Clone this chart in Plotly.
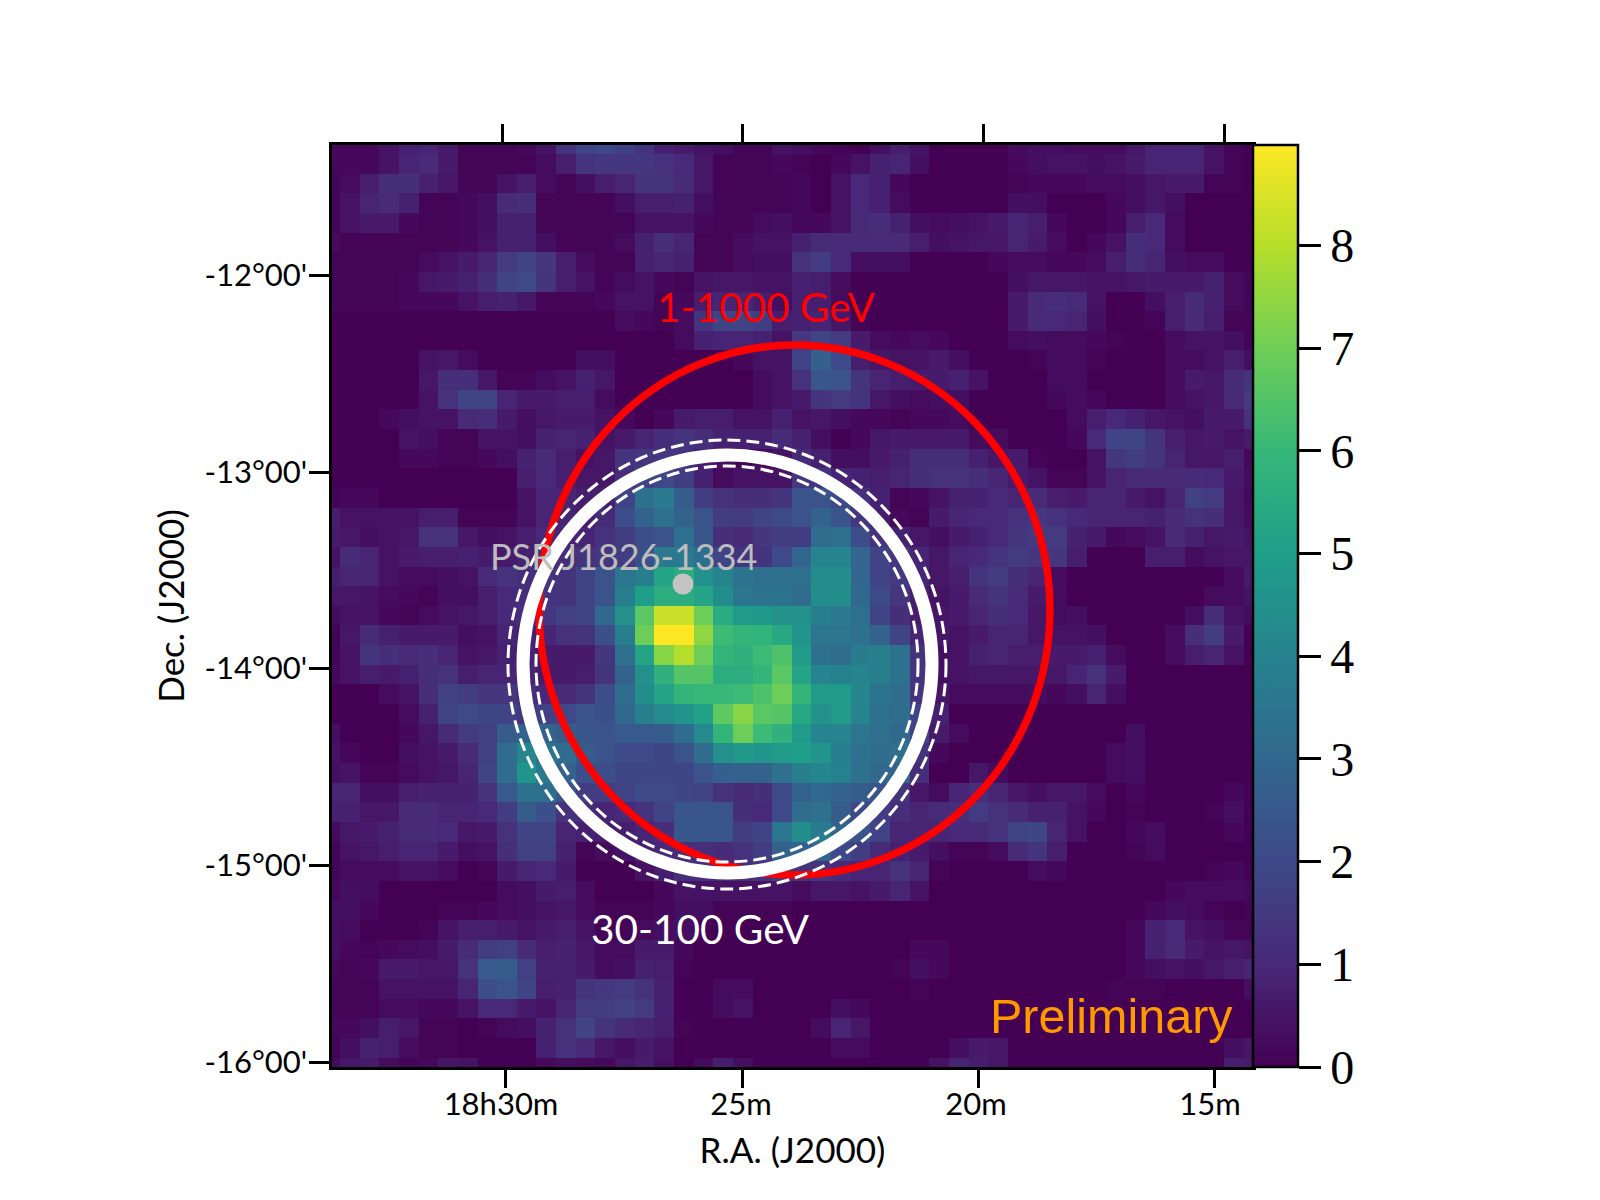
import numpy as np
import plotly.graph_objects as go

# significance map, in tenths of a sigma; columns 0-23 and 24-47 of each of the 48 rows
map_left = [
[2,2,2,5,9,10,7,1,1,1,2,5,15,20,22,19,15,9,7,5,4,1,1,5],
[2,2,2,5,10,12,7,1,1,1,1,3,8,15,16,16,16,14,11,6,1,1,1,2],
[1,3,8,13,13,9,6,1,1,5,8,3,1,4,8,10,15,15,12,6,1,1,1,1],
[1,5,10,12,9,1,1,2,4,12,13,1,1,1,1,4,8,8,9,4,1,1,1,1],
[1,5,7,7,2,1,1,2,4,9,9,1,1,1,1,1,5,5,5,2,1,1,3,4],
[3,1,1,1,1,1,1,2,5,9,9,4,1,1,1,3,9,13,10,1,1,3,5,5],
[1,1,1,1,1,3,5,7,10,17,20,16,8,3,1,1,9,10,9,1,1,3,4,4],
[1,1,1,1,2,6,7,9,13,20,22,15,8,5,1,3,5,2,1,5,6,6,5,5],
[1,1,1,1,2,2,2,5,8,9,6,1,1,1,2,5,5,1,2,8,10,10,8,4],
[0,0,0,0,0,0,0,0,0,0,0,0,0,0,0,3,2,1,3,15,20,20,18,8],
[0,0,0,0,0,0,0,0,0,0,0,0,0,0,0,0,0,0,3,9,10,10,9,5],
[0,0,0,0,0,5,6,3,0,0,0,0,0,4,4,0,0,0,0,0,0,2,5,5],
[0,0,0,0,0,6,13,13,6,1,1,3,5,9,6,0,0,0,0,0,0,0,3,5],
[0,0,0,0,0,5,14,20,20,10,7,7,8,8,3,0,0,0,0,0,0,0,3,5],
[0,0,0,2,4,5,5,12,13,7,4,6,7,7,5,2,0,2,7,8,8,5,5,9],
[0,0,0,0,5,4,1,1,5,5,4,9,10,9,5,7,10,13,15,13,9,9,9,12],
[0,0,0,0,2,2,1,1,2,4,9,12,8,5,6,15,16,16,15,8,5,1,3,5],
[0,0,0,0,0,0,0,0,0,0,8,11,8,6,6,13,20,22,18,9,3,5,5,5],
[1,2,2,0,0,0,0,0,0,0,5,10,10,8,8,20,35,38,28,18,14,13,13,15],
[8,5,5,5,5,8,8,1,1,1,5,10,10,8,12,23,30,35,30,25,18,17,20,22],
[7,6,4,5,6,14,14,6,4,5,8,11,10,10,14,18,23,25,34,26,13,12,16,18],
[5,12,10,5,7,8,8,9,7,7,9,12,13,15,16,18,24,38,38,34,20,15,15,22],
[8,10,10,5,3,3,4,5,12,15,13,15,15,20,25,37,40,53,57,46,42,36,34,34],
[6,6,5,3,2,1,4,4,8,11,13,15,15,20,25,40,51,57,57,53,45,37,36,36],
[3,5,5,2,1,3,5,6,8,11,13,16,19,20,32,46,67,83,83,70,56,50,49,47],
[1,6,12,9,7,7,7,4,5,10,9,10,14,15,24,40,70,90,90,75,62,60,59,55],
[1,5,15,13,12,13,10,5,6,9,10,7,7,7,16,35,53,74,80,70,60,58,62,65],
[2,5,8,7,9,13,14,8,10,10,10,7,7,8,15,30,46,58,66,66,57,57,60,67],
[0,0,0,3,5,13,19,18,16,16,13,11,12,15,23,33,45,53,60,61,61,62,65,70],
[0,0,0,0,3,9,20,22,21,20,16,19,22,25,24,32,40,44,48,52,68,74,67,66],
[4,0,0,0,2,6,12,17,19,28,30,30,28,26,25,27,27,28,33,44,60,70,62,58],
[5,2,0,0,4,5,7,12,19,33,43,36,33,28,25,22,22,21,25,33,46,49,48,50],
[4,5,1,1,3,5,6,10,20,33,48,38,30,24,23,21,21,21,21,25,29,30,30,35],
[10,10,4,4,8,9,9,9,14,27,35,34,25,18,18,20,22,22,21,20,14,12,13,22],
[9,9,6,6,12,12,10,10,11,18,28,24,14,13,10,12,15,20,26,26,25,13,11,22],
[3,6,7,9,12,12,11,6,7,14,20,20,10,9,8,8,10,13,26,26,26,18,20,37],
[1,5,6,8,10,10,7,4,5,13,19,19,9,1,3,5,9,11,13,13,12,14,18,30],
[1,3,3,3,5,5,3,0,1,7,10,11,7,0,0,0,5,8,13,13,13,13,15,17],
[2,4,3,0,0,0,0,0,0,3,4,7,8,3,0,0,0,2,5,5,5,5,5,5],
[4,4,2,0,0,0,1,1,2,3,4,5,6,3,1,1,1,2,4,4,1,1,1,1],
[4,3,0,0,0,1,5,8,8,7,5,7,8,5,1,1,3,4,4,1,0,0,0,0],
[4,2,1,2,3,4,7,12,18,19,12,8,9,6,3,3,7,7,2,0,0,0,0,0],
[2,1,2,7,7,6,6,14,27,28,19,9,9,7,3,4,9,8,1,0,0,0,0,0],
[1,1,1,5,5,5,5,10,23,25,20,8,9,15,16,17,14,9,0,0,3,3,0,0],
[1,1,1,3,3,2,2,5,11,11,7,5,10,17,18,19,17,9,0,0,3,5,0,0],
[2,2,4,8,6,1,1,0,1,3,4,9,14,20,15,12,10,8,1,0,0,0,0,0],
[1,4,9,8,3,1,1,0,0,0,0,9,14,12,6,4,7,5,0,0,0,0,0,0],
[3,6,7,3,1,2,6,5,0,0,0,2,4,3,2,6,8,4,0,3,8,4,0,0],
]
map_right = [
[4,2,1,0,4,8,5,0,0,0,0,3,4,4,3,3,3,6,10,10,10,5,1,0],
[1,0,2,5,9,10,4,0,0,0,0,2,4,5,5,4,5,7,10,10,10,5,1,0],
[2,0,5,11,9,2,0,0,0,0,0,1,2,2,2,3,3,4,6,7,7,1,1,0],
[2,0,5,11,9,3,0,0,0,0,0,4,4,0,0,0,2,4,6,4,0,0,0,0],
[2,2,5,12,13,9,4,3,4,5,7,10,8,2,0,0,2,8,11,3,0,0,0,0],
[9,12,12,12,12,12,8,4,5,6,6,10,7,3,0,2,5,13,11,3,0,0,0,0],
[14,18,11,4,4,4,0,0,0,0,2,3,3,2,2,3,8,13,10,4,3,3,0,0],
[9,8,3,0,0,0,0,0,0,0,0,4,6,6,6,5,5,6,7,7,7,9,3,1],
[9,8,3,0,0,0,0,0,0,0,0,7,12,13,12,5,0,0,4,8,12,9,3,1],
[9,10,6,1,0,0,0,0,0,0,0,7,12,11,10,4,0,0,1,8,12,8,1,1],
[16,20,17,7,3,2,3,2,0,0,0,3,4,3,3,2,1,0,0,3,5,5,4,1],
[20,29,22,8,6,5,5,7,4,0,0,0,1,3,3,1,0,0,0,3,3,5,8,4],
[14,26,25,15,10,8,7,7,9,5,0,0,0,3,3,0,0,0,0,3,7,6,12,15],
[7,15,17,15,6,4,3,4,4,0,0,0,0,2,3,2,0,0,0,3,5,6,12,17],
[5,6,4,2,2,1,2,2,3,0,0,0,0,0,3,8,11,9,6,5,4,7,7,14],
[9,4,0,2,6,7,7,7,7,3,3,0,0,0,2,11,20,21,15,8,6,7,5,7],
[12,9,4,4,7,9,13,13,13,9,6,7,1,0,0,5,16,18,15,10,6,6,8,2],
[16,15,10,9,8,10,13,14,14,13,10,7,5,1,1,5,10,12,12,12,12,11,7,3],
[25,25,22,14,9,1,2,5,9,9,11,10,12,8,7,10,10,7,5,10,19,17,6,2],
[25,30,25,16,8,2,1,7,10,11,11,14,16,14,11,10,10,10,9,12,14,13,6,3],
[18,33,34,23,14,9,6,4,7,9,11,16,17,17,9,7,2,3,5,12,9,6,7,5],
[31,42,42,31,20,16,10,6,10,11,15,17,16,16,8,0,0,0,8,8,3,5,6,6],
[35,45,45,31,20,17,10,6,8,15,17,13,10,3,0,0,0,0,0,0,0,0,3,7],
[33,45,45,32,22,16,8,5,7,12,15,12,7,3,0,0,0,0,0,0,0,3,3,5],
[47,40,38,34,20,13,7,6,7,10,13,11,6,3,4,0,0,0,0,0,4,13,5,3],
[48,37,37,35,30,20,10,6,5,7,10,10,6,5,5,4,0,0,0,3,13,18,7,0],
[50,35,33,39,40,35,15,4,5,9,10,8,8,7,7,9,3,0,0,3,8,10,5,0],
[53,42,41,42,40,35,15,4,5,6,6,6,6,6,10,14,7,0,0,0,0,0,0,0],
[60,50,50,43,36,33,15,6,3,3,3,3,4,2,4,10,4,0,0,0,0,0,0,0],
[55,47,50,42,35,33,20,9,0,0,0,0,0,0,0,0,0,0,0,0,0,0,0,0],
[50,42,42,37,34,32,20,7,3,0,0,0,0,0,0,0,0,4,0,0,0,0,0,0],
[51,48,40,35,33,34,15,2,0,0,0,0,0,0,0,0,3,4,0,0,0,0,0,0],
[40,43,41,35,32,30,13,0,0,6,3,0,0,0,0,0,3,4,0,0,0,0,0,0],
[30,32,30,28,25,15,6,3,10,13,10,6,4,6,6,3,0,2,0,0,0,0,2,0],
[33,35,28,22,18,13,10,12,13,17,14,12,9,9,5,2,0,1,0,0,0,1,4,0],
[45,39,30,25,20,10,10,10,11,12,14,20,21,10,5,0,0,2,3,0,0,0,2,0],
[30,31,22,18,12,9,7,4,1,1,3,12,15,8,0,0,0,1,3,0,0,0,0,0],
[15,15,12,10,10,14,10,1,0,0,0,0,3,2,0,0,0,0,0,0,0,1,2,0],
[3,6,6,5,7,10,5,0,0,0,0,0,0,0,0,0,0,0,0,2,3,3,3,2],
[0,0,0,0,0,0,0,0,0,0,0,0,0,0,0,0,0,0,2,4,3,1,0,1],
[0,0,0,0,0,0,0,0,0,0,0,0,0,0,0,0,0,2,9,11,5,4,1,1],
[0,0,0,0,0,0,2,2,0,0,0,0,0,0,0,0,0,2,9,12,7,5,6,5],
[0,0,0,0,0,1,4,2,0,0,0,0,0,0,0,0,0,2,4,5,4,6,8,10],
[0,0,0,0,0,0,1,0,0,0,0,0,0,0,0,0,1,1,1,0,0,0,0,4],
[0,0,4,2,0,0,0,0,0,0,0,0,0,0,0,0,0,0,0,0,0,0,0,0],
[0,3,10,6,0,0,0,0,0,0,0,0,0,0,0,0,0,0,0,0,0,0,0,0],
[0,0,3,3,0,0,0,0,4,7,6,0,0,0,0,0,0,0,0,0,0,0,4,6],
[0,0,0,0,0,0,0,5,10,8,6,0,0,0,0,0,0,0,0,0,0,0,8,7],
]

ra_labels = ["18h30m", "25m", "20m", "15m"]
dec_labels = ["-12°00'", "-13°00'", "-14°00'", "-15°00'", "-16°00'"]

z = np.hstack([np.array(map_left), np.array(map_right)]) / 10.0
# my eye read the faint cells slightly too bright: pull the low end of the estimates down
z = np.interp(z, [0, 2, 9], [0, 1.8, 9])
nrow, ncol = z.shape

# plot frame in page pixels; one map cell is 19.65 px; the page body adds an 8 px margin
L, R, T, B = 332, 1253, 145, 1067
CELL = 19.65
BODY = 8
PAGE_W, PAGE_H = 1600 - 2 * BODY, 1200 - 2 * BODY
def cx(px): return (px - 340) / CELL + 0.5
def cy(py): return (py - 154) / CELL + 0.5

ra_ticks_bottom = [cx(p) for p in (505.5, 742, 978, 1214)]
ra_label_pos = [cx(p) for p in (501, 741, 976, 1210)]
ra_ticks_top = [cx(p) for p in (502, 742, 983, 1224)]
dec_ticks = [cy(p) for p in (275, 472, 668, 865, 1062)]

SANS = "Lato"
TICKFONT = dict(family=SANS, size=31, color="black")
TICKS = dict(ticks="outside", ticklen=20, tickwidth=2.5, tickcolor="black")

fig = go.Figure()
fig.add_trace(go.Heatmap(
    z=z, x=np.arange(ncol), y=np.arange(nrow),
    colorscale="Viridis", zmin=0, zmax=8.98, hoverinfo="skip",
    colorbar=dict(
        x=1.0, xanchor="left", xpad=0, y=0.5, yanchor="middle", ypad=0, len=1,
        thickness=45, thicknessmode="pixels", outlinecolor="black", outlinewidth=2.5,
        tickmode="array", tickvals=list(range(0, 9)), ticktext=[str(i) for i in range(9)],
        ticks="outside", ticklen=22, tickwidth=2.5, tickcolor="black",
        tickfont=dict(family="Liberation Serif", size=48, color="black"),
    ),
))
# empty traces so the axes carrying only tick marks are drawn
fig.add_trace(go.Scatter(x=[], y=[], xaxis="x2", yaxis="y", showlegend=False, hoverinfo="skip"))
fig.add_trace(go.Scatter(x=[], y=[], xaxis="x3", yaxis="y", showlegend=False, hoverinfo="skip"))

def ellipse(cxp, cyp, rx, ry, color, width, dash="solid"):
    return dict(type="circle", xref="x", yref="y", layer="above",
                x0=cx(cxp - rx), x1=cx(cxp + rx), y0=cy(cyp - ry), y1=cy(cyp + ry),
                line=dict(color=color, width=width, dash=dash), fillcolor="rgba(0,0,0,0)")

shapes = [
    ellipse(794.5, 610, 255.5, 265, "#ff0000", 7.5),
    ellipse(727.5, 664, 204.5, 209, "white", 13),
    ellipse(727, 664.5, 219, 224.5, "white", 3, "13px,6px"),
    ellipse(727, 664, 191, 198, "white", 3, "13px,6px"),
]

def label(text, xp, yp, color, size, family=SANS):
    return dict(text=text, x=cx(xp), y=cy(yp), xref="x", yref="y", showarrow=False,
                xanchor="center", yanchor="middle",
                font=dict(family=family, size=size, color=color))

annotations = [
    label("1-1000 GeV", 766, 306, "#ff0000", 40.5),
    label("30-100 GeV", 700.5, 928, "white", 40.5),
    label("PSR J1826-1334", 624, 556, "#bdbdbd", 36),
    label("Preliminary", 1111, 1016, "#ff9900", 48.5, "Liberation Sans"),
]

fig.add_trace(go.Scatter(
    x=[cx(683)], y=[cy(584)], mode="markers", showlegend=False, hoverinfo="skip",
    marker=dict(color="#c4c4c4", size=21, line=dict(width=0)),
))

fig.update_layout(
    width=PAGE_W, height=PAGE_H, autosize=False,
    paper_bgcolor="white", plot_bgcolor="#440154",
    margin=dict(l=L - BODY, r=PAGE_W - (R - BODY), t=T - BODY, b=PAGE_H - (B - BODY), pad=0),
    showlegend=False, shapes=shapes, annotations=annotations,
    xaxis=dict(
        range=[cx(L), cx(R)], showgrid=False, zeroline=False,
        showline=True, linecolor="black", linewidth=2.5, mirror=True,
        tickmode="array", tickvals=ra_label_pos, ticktext=ra_labels,
        ticks="", tickfont=TICKFONT, ticklabelstandoff=8,
        title=dict(text="R.A. (J2000)", font=dict(family=SANS, size=35, color="black"), standoff=18),
    ),
    xaxis2=dict(
        range=[cx(L), cx(R)], overlaying="x", side="top", anchor="y",
        showgrid=False, zeroline=False, showline=False,
        tickmode="array", tickvals=ra_ticks_top, ticktext=["", "", "", ""], **TICKS,
    ),
    xaxis3=dict(
        range=[cx(L), cx(R)], overlaying="x", side="bottom", anchor="y",
        showgrid=False, zeroline=False, showline=False,
        tickmode="array", tickvals=ra_ticks_bottom, ticktext=["", "", "", ""], **TICKS,
    ),
    yaxis=dict(
        range=[cy(B), cy(T)], showgrid=False, zeroline=False,
        showline=True, linecolor="black", linewidth=2.5, mirror=True,
        tickmode="array", tickvals=dec_ticks, ticktext=dec_labels, ticklabelstandoff=-4,
        tickfont=TICKFONT, **TICKS,
        title=dict(text="Dec. (J2000)", font=dict(family=SANS, size=35, color="black"), standoff=10),
    ),
)

fig.write_html("out.html")
